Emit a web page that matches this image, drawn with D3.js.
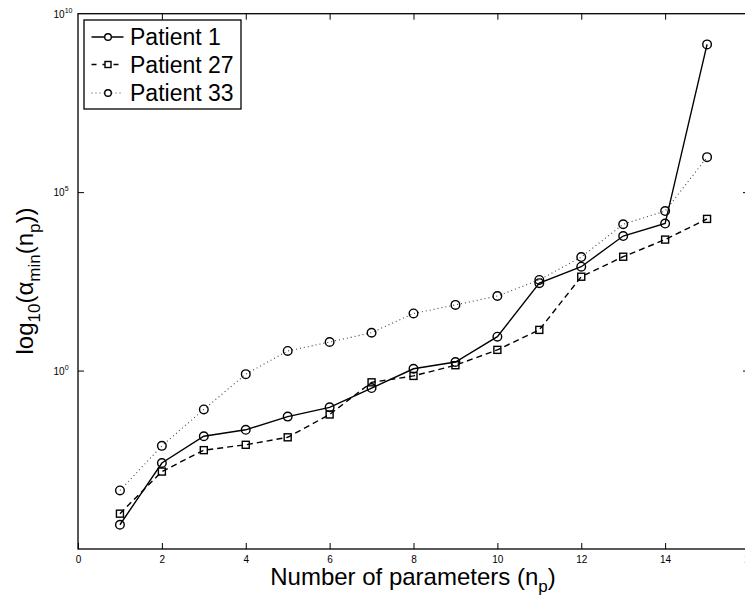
<!DOCTYPE html>
<html>
<head>
<meta charset="utf-8">
<script src="https://cdn.jsdelivr.net/npm/d3@7"></script>
<style>
  html, body { margin: 0; padding: 0; background: #fff; }
  svg { display: block; font-family: "Liberation Sans", Arial, Helvetica, sans-serif; }
</style>
</head>
<body>
<svg id="chart" width="745" height="598"></svg>
<script>
// ---- data (y values as log10 exponents) ----
const nParams = [1, 2, 3, 4, 5, 6, 7, 8, 9, 10, 11, 12, 13, 14, 15];
const patient1Exp  = [-4.32, -2.59, -1.84, -1.66, -1.29, -1.03, -0.49, 0.05, 0.24, 0.95, 2.45, 2.91, 3.77, 4.12, 9.14];
const patient27Exp = [-4.01, -2.83, -2.23, -2.08, -1.87, -1.23, -0.33, -0.15, 0.15, 0.58, 1.14, 2.63, 3.19, 3.67, 4.25];
const patient33Exp = [-3.36, -2.11, -1.09, -0.10, 0.55, 0.80, 1.06, 1.60, 1.84, 2.09, 2.54, 3.18, 4.10, 4.47, 5.98];
const seriesNames = ["Patient 1", "Patient 27", "Patient 33"];
const xTickValues = [0, 2, 4, 6, 8, 10, 12, 14, 16];
const yTickExponents = [0, 5, 10];
const xDomain = [0, 16];
const yDomain = [1e-5, 1e10];

// ---- layout ----
const svg = d3.select("#chart");
const pLeft = 78, pRight = 749, pTop = 13.7, pBottom = 549;
const x = d3.scaleLinear().domain(xDomain).range([pLeft, pRight]);
const y = d3.scaleLog().domain(yDomain).range([pBottom, pTop]);

const series = [
  { name: seriesNames[0], vals: patient1Exp,  dash: null,  width: 1.4, marker: "circle", opacity: 1 },
  { name: seriesNames[1], vals: patient27Exp, dash: "6,4", width: 1.4, marker: "square", opacity: 1 },
  { name: seriesNames[2], vals: patient33Exp, dash: "1,3", width: 1.1, marker: "circle", opacity: 0.75 }
];

// ---- lines & markers ----
const line = d3.line().x(d => x(d[0])).y(d => y(d[1]));
series.forEach(s => {
  const pts = nParams.map((n, i) => [n, Math.pow(10, s.vals[i])]);
  svg.append("path")
    .attr("d", line(pts))
    .attr("fill", "none")
    .attr("stroke", "#000")
    .attr("stroke-opacity", s.opacity)
    .attr("stroke-width", s.width)
    .attr("stroke-dasharray", s.dash);
  const g = svg.append("g");
  if (s.marker === "circle") {
    g.selectAll("circle").data(pts).join("circle")
      .attr("cx", d => x(d[0])).attr("cy", d => y(d[1])).attr("r", 4.3)
      .attr("fill", "none").attr("stroke", "#000").attr("stroke-width", 1.4);
  } else {
    g.selectAll("rect").data(pts).join("rect")
      .attr("x", d => x(d[0]) - 3.5).attr("y", d => y(d[1]) - 3.5)
      .attr("width", 7).attr("height", 7)
      .attr("fill", "none").attr("stroke", "#000").attr("stroke-width", 1.4);
  }
});

// ---- axes frame ----
const axG = svg.append("g").attr("stroke", "#000").attr("stroke-width", 1.3);
axG.append("rect").attr("x", pLeft).attr("y", pTop)
  .attr("width", pRight - pLeft).attr("height", pBottom - pTop).attr("fill", "none");

const xAxisBottom = d3.axisBottom(x).tickValues(xTickValues).tickSize(-6).tickPadding(7).tickFormat(d3.format("d"));
const gxb = svg.append("g").attr("transform", `translate(0,${pBottom})`).call(xAxisBottom);
gxb.select(".domain").remove();
gxb.selectAll("line").attr("stroke", "#000");
gxb.selectAll("text").attr("font-size", 10).attr("fill", "#000")
  .attr("font-family", "'Liberation Sans', Arial, sans-serif");

const xAxisTop = d3.axisTop(x).tickValues(xTickValues.slice(1, -1)).tickSize(-6).tickFormat("");
const gxt = svg.append("g").attr("transform", `translate(0,${pTop})`).call(xAxisTop);
gxt.select(".domain").remove();
gxt.selectAll("line").attr("stroke", "#000");

const yTickVals = yTickExponents.map(e => Math.pow(10, e));
const yAxisLeft = d3.axisLeft(y).tickValues(yTickVals.slice(0, -1)).tickSize(-6).tickFormat("");
const gyl = svg.append("g").attr("transform", `translate(${pLeft},0)`).call(yAxisLeft);
gyl.select(".domain").remove();
gyl.selectAll("line").attr("stroke", "#000");
const yAxisRight = d3.axisRight(y).tickValues(yTickVals.slice(0, -1)).tickSize(-6).tickFormat("");
const gyr = svg.append("g").attr("transform", `translate(${pRight},0)`).call(yAxisRight);
gyr.select(".domain").remove();
gyr.selectAll("line").attr("stroke", "#000");

// y tick labels with superscripts
yTickExponents.forEach(e => {
  const t = svg.append("text")
    .attr("x", 53.5).attr("y", y(Math.pow(10, e)) + 4.3)
    .attr("font-size", 10).attr("fill", "#000");
  t.append("tspan").text("10");
  t.append("tspan").attr("dy", -5).attr("font-size", 7).text(String(e));
});

// ---- axis titles ----
const xl = svg.append("text").attr("x", 413).attr("y", 584.5)
  .attr("text-anchor", "middle").attr("font-size", 24).attr("fill", "#000");
xl.append("tspan").text("Number of parameters (n");
xl.append("tspan").attr("dy", 7).attr("font-size", 17).text("p");
xl.append("tspan").attr("dy", -7).text(")");

const yl = svg.append("text")
  .attr("transform", "translate(33,281) rotate(-90)")
  .attr("text-anchor", "middle").attr("font-size", 24).attr("fill", "#000");
yl.append("tspan").text("log");
yl.append("tspan").attr("dy", 7).attr("font-size", 17).text("10");
yl.append("tspan").attr("dy", -7).text("(α");
yl.append("tspan").attr("dy", 7).attr("font-size", 17).text("min");
yl.append("tspan").attr("dy", -7).text("(n");
yl.append("tspan").attr("dy", 7).attr("font-size", 17).text("p");
yl.append("tspan").attr("dy", -7).text("))");

// ---- legend ----
const lg = svg.append("g");
lg.append("rect").attr("x", 84).attr("y", 20).attr("width", 157).attr("height", 89)
  .attr("fill", "#fff").attr("stroke", "#000").attr("stroke-width", 1.3);
const rowY = [37, 64.5, 93];
series.forEach((s, i) => {
  const cy = rowY[i];
  lg.append("line").attr("x1", 91.5).attr("x2", 123.5).attr("y1", cy).attr("y2", cy)
    .attr("stroke", "#000").attr("stroke-width", s.width).attr("stroke-opacity", s.opacity)
    .attr("stroke-dasharray", s.dash === "6,4" ? "5,6" : s.dash);
  if (s.marker === "circle") {
    lg.append("circle").attr("cx", 108).attr("cy", cy).attr("r", 3.3)
      .attr("fill", "#fff").attr("stroke", "#000").attr("stroke-width", 1.4);
  } else {
    lg.append("rect").attr("x", 105).attr("y", cy - 3).attr("width", 6).attr("height", 6)
      .attr("fill", "#fff").attr("stroke", "#000").attr("stroke-width", 1.4);
  }
  lg.append("text").attr("x", 130).attr("y", cy + 8.2)
    .attr("font-size", 23).attr("fill", "#000").text(s.name);
});
</script>
</body>
</html>
